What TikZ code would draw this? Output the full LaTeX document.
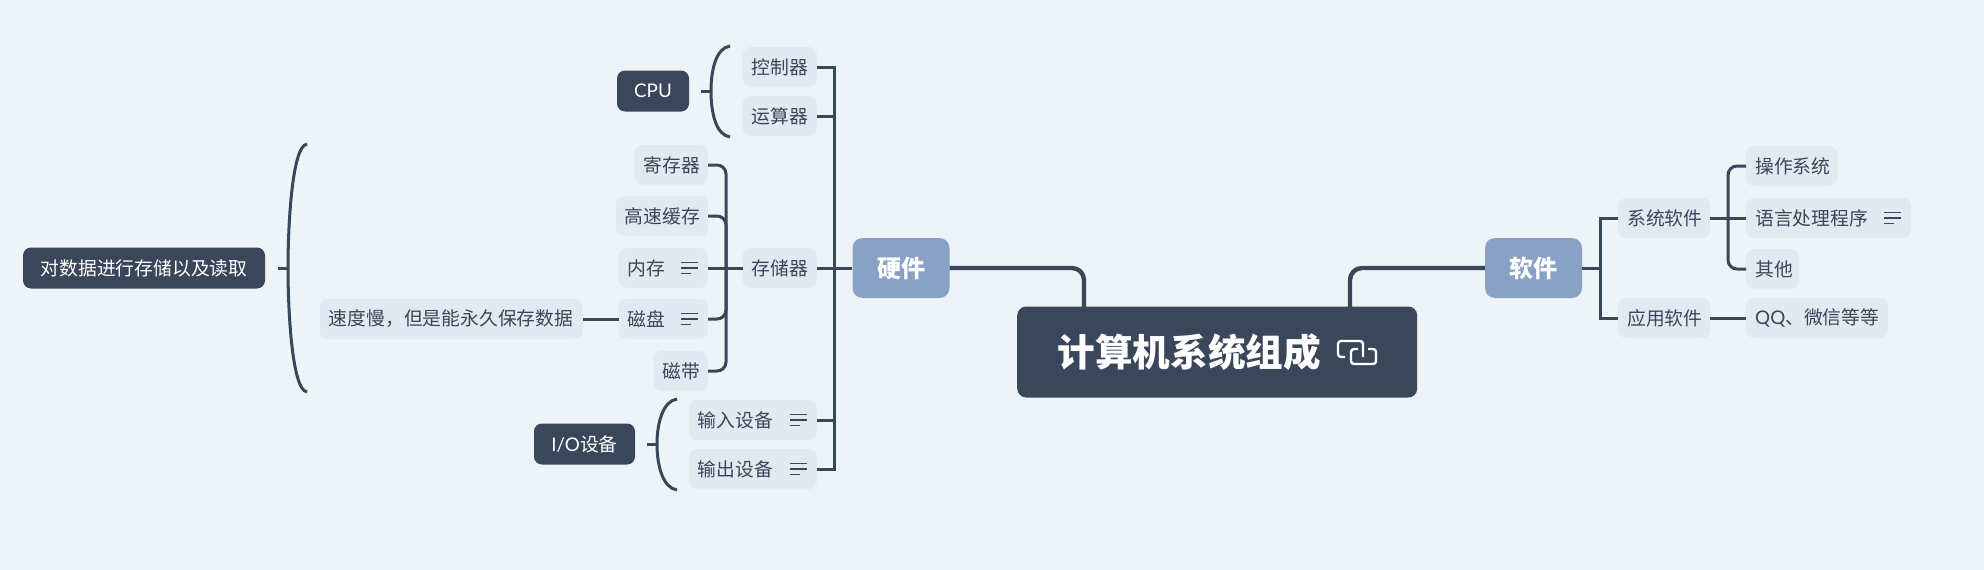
\documentclass[tikz,border=0pt]{standalone}
\usepackage{fontspec}
\setmainfont{Noto Sans CJK SC}
\newfontfamily\latn{Lato}
\definecolor{pagebg}{HTML}{ECF4F8}
\definecolor{slate}{HTML}{3A4659}
\definecolor{mist}{HTML}{E3E9F1}
\definecolor{steel}{HTML}{8AA1C6}
\tikzset{
  leaf/.style={fill=mist,text=slate,rounded corners=8pt,minimum height=40pt,inner xsep=9pt,
    inner ysep=0pt,align=left,text width=#1,font=\fontsize{18.8pt}{22pt}\selectfont},
  tag/.style={fill=slate,text=white,rounded corners=8pt,minimum height=41pt,inner sep=0pt,
    minimum width=#1,font=\fontsize{18.8pt}{22pt}\selectfont},
  major/.style={fill=steel,text=white,rounded corners=10pt,minimum height=60pt,minimum width=97pt,
    inner sep=0pt,font=\fontsize{24pt}{28pt}\selectfont\bfseries},
  link/.style={draw=slate,line width=3pt},
  roundlink/.style={link,rounded corners=9pt},
  mainlink/.style={draw=slate,line width=4.4pt,rounded corners=12pt},
  noteicon/.pic={
    \draw[slate,line width=1.4pt] (-17,-5.5) -- (0,-5.5) (-17,0) -- (0,0) (-17,5.5) -- (-7,5.5);
  }
}
\begin{document}
\begin{tikzpicture}[x=1pt,y=-1pt]
  \fill[pagebg] (0,0) rectangle (1984,570);
  % centre and the two main branches
  \node[fill=slate,text=white,rounded corners=9pt,minimum width=400pt,minimum height=91pt,inner sep=0pt,
    font=\fontsize{37.6pt}{42pt}\selectfont\bfseries,anchor=west] (root) at (1017,352) {\hspace*{-56pt}计算机系统组成};
  \node[major] (hw) at (901,268) {硬件};
  \node[major] (sw) at (1533.5,268) {软件};
  \coordinate (hwin) at (1084,307);
  \coordinate (swin) at (1350,307);
  \draw[mainlink] (hw.east) -| (hwin);
  \draw[mainlink] (sw.west) -| (swin);
  % link icon in the centre
  \draw[white,line width=2.4pt,rounded corners=3pt] (1345,357) -- (1338,357) -- (1338,341) -- (1363,341) -- (1363,357);
  \draw[white,line width=2.4pt,rounded corners=3pt] (1358,349) -- (1351,349) -- (1351,364) -- (1376,364) -- (1376,349) -- (1368,349);
  % hardware side
  \node[leaf=56pt,anchor=east] (ctrl) at (817,67) {控制器};
  \node[leaf=56pt,anchor=east] (alu) at (817,116) {运算器};
  \node[leaf=56pt,anchor=east] (store) at (817,268) {存储器};
  \node[leaf=110pt,anchor=east] (inp) at (817,420) {输入设备};
  \node[leaf=110pt,anchor=east] (outp) at (817,469) {输出设备};
  \node[leaf=55pt,anchor=east] (reg) at (708,165) {寄存器};
  \node[leaf=74pt,anchor=east] (cache) at (708,216) {高速缓存};
  \node[leaf=71pt,anchor=east] (mem) at (708,268) {内存};
  \node[leaf=71pt,anchor=east] (disk) at (708,319) {磁盘};
  \node[leaf=36pt,anchor=east] (tape) at (708,371) {磁带};
  \node[leaf=245pt,anchor=east] (slow) at (583,319) {速度慢，但是能永久保存数据};
  \node[tag=72pt] (cpu) at (653,91) {\latn CPU};
  \node[tag=101pt] (io) at (584.5,444) {{\latn I/O}设备};
  \node[tag=242pt] (rw) at (144,268) {对数据进行存储以及读取};
  \coordinate (hwbus) at (834,268);
  \coordinate (storebus) at (726,268);
  \foreach \n in {ctrl,alu,inp,outp}
    \draw[link] (\n.east) -| (hwbus);
  \draw[link] (store.east) -- (hw.west);
  \foreach \n in {reg,cache,disk,tape}
    \draw[roundlink] (\n.east) -| (storebus);
  \draw[link] (mem.east) -- (store.west);
  \draw[link] (slow.east) -- (disk.west);
  % curly groups
  \coordinate (cpubr) at (711,91);
  \coordinate (iobr) at (657,444);
  \coordinate (rwbr) at (288,268);
  \draw[link] ([xshift=12pt]cpu.east) -- (cpubr);
  \draw[link] ([xshift=12pt]io.east) -- (iobr);
  \draw[link] ([xshift=13pt]rw.east) -- (rwbr);
  \draw[link] (730,46) .. controls (716,48) and (711,70) .. (cpubr) .. controls (711,113) and (716,135) .. (730,137);
  \draw[link] (677,399) .. controls (663,401) and (657,423) .. (iobr) .. controls (657,466) and (663,488) .. (677,490);
  \draw[link] (307,144) .. controls (292,146) and (288,225) .. (rwbr) .. controls (288,311) and (292,390) .. (307,392);
  % software side
  \node[leaf=74pt,anchor=west] (sys) at (1618,218) {系统软件};
  \node[leaf=74pt,anchor=west] (app) at (1618,318) {应用软件};
  \node[leaf=73pt,anchor=west] (os) at (1746,166) {操作系统};
  \node[leaf=147pt,anchor=west] (lang) at (1746,218) {语言处理程序};
  \node[leaf=35pt,anchor=west] (other) at (1746,269) {其他};
  \node[leaf=124pt,anchor=west] (chat) at (1746,318) {{\latn QQ}、微信等等};
  \coordinate (swbus) at (1600,268);
  \coordinate (sysbus) at (1728,218);
  \foreach \n in {sys,app}
    \draw[link] (\n.west) -| (swbus);
  \draw[link] (sw.east) -- (swbus);
  \draw[roundlink] (os.west) -| (sysbus);
  \draw[roundlink] (other.west) -| (sysbus);
  \draw[link] (sys.east) -- (lang.west);
  \draw[link] (app.east) -- (chat.west);
  % note marks
  \foreach \n in {mem,disk,inp,outp,lang}
    \pic at ([xshift=-10pt]\n.east) {noteicon};
\end{tikzpicture}
\end{document}
